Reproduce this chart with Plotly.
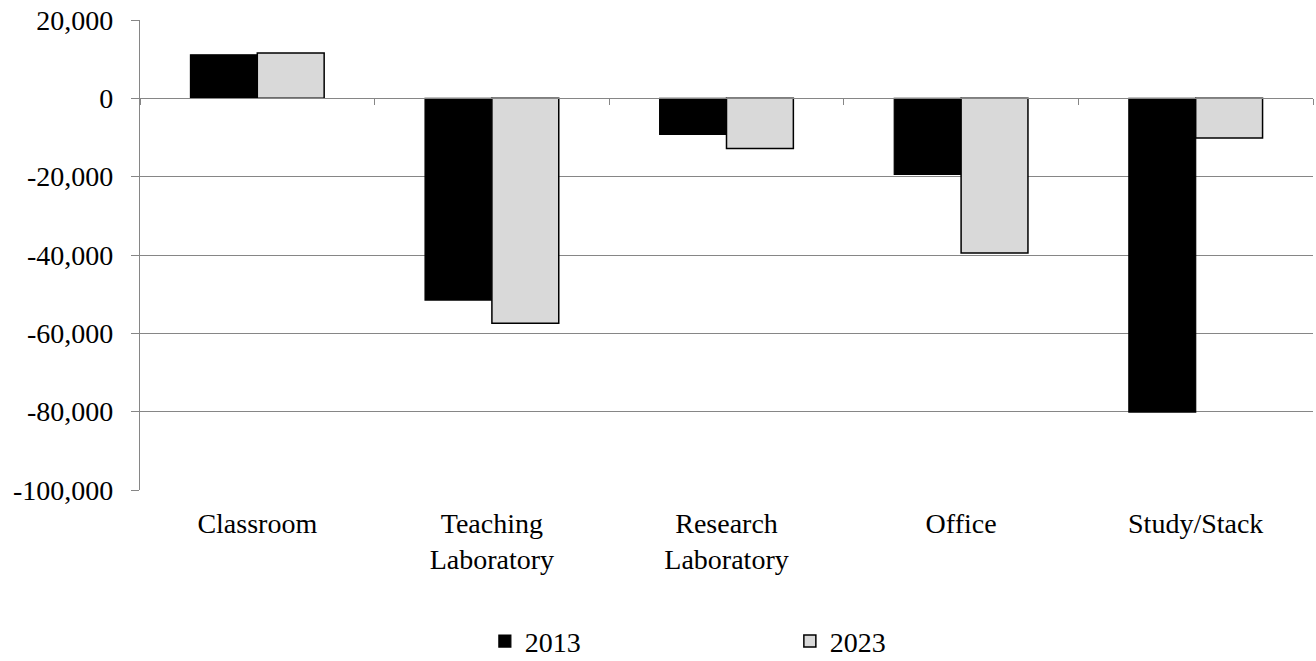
import plotly.graph_objects as go

categories = ["Classroom", "Teaching<br>Laboratory", "Research<br>Laboratory", "Office", "Study/Stack"]
series_2013 = [11100, -51500, -9200, -19400, -80100]
series_2023 = [11600, -57400, -12800, -39500, -10100]
y_tickvals = [20000, 0, -20000, -40000, -60000, -80000, -100000]
y_ticktext = ["20,000", "0", "-20,000", "-40,000", "-60,000", "-80,000", "-100,000"]
y_range = [-100000, 20000]

FONT = "Liberation Serif, Times New Roman, serif"
FS = 28

fig = go.Figure()
fig.add_trace(go.Bar(x=categories, y=series_2013, name="2013",
                     marker=dict(color="#000000", line=dict(color="#000000", width=1.2))))
fig.add_trace(go.Bar(x=categories, y=series_2023, name="2023",
                     marker=dict(color="#d9d9d9", line=dict(color="#000000", width=1.5))))
# invisible trace to host the category-axis line at zero
fig.add_trace(go.Scatter(x=categories, y=[0]*len(categories), xaxis="x2", mode="none",
                         showlegend=False, hoverinfo="skip"))

zero_pos = (0 - y_range[0]) / (y_range[1] - y_range[0])

fig.update_layout(
    width=1316, height=661,
    margin=dict(l=140, r=3, t=20, b=171, autoexpand=False),
    paper_bgcolor="white", plot_bgcolor="white",
    font=dict(family=FONT, size=FS, color="#000000"),
    barmode="group", bargap=0.43, bargroupgap=0,
    showlegend=True,
    legend=dict(orientation="h", x=0.294, xanchor="left", y=-0.322, yanchor="middle",
                font=dict(family=FONT, size=FS, color="#000000"), entrywidth=260,
                traceorder="normal", itemwidth=30, tracegroupgap=0),
    xaxis=dict(showline=False, ticks="", showgrid=False, ticklabelstandoff=14,
               tickfont=dict(family=FONT, size=FS, color="#000000"),
               range=[-0.5, 4.5]),
    xaxis2=dict(overlaying="x", matches="x", anchor="free", position=zero_pos,
                showline=True, linecolor="#868686", linewidth=1.2,
                ticks="outside", ticklen=6, tickcolor="#868686", tickwidth=1.2,
                tickmode="array", tickvals=[-0.5, 0.5, 1.5, 2.5, 3.5, 4.5],
                showticklabels=False, showgrid=False, zeroline=False, side="bottom"),
    yaxis=dict(range=y_range, tickmode="array", tickvals=y_tickvals, ticktext=y_ticktext,
               showgrid=True, gridcolor="#868686", gridwidth=1.2, showline=True,
               linecolor="#868686", linewidth=1.2, ticks="outside", ticklen=8,
               tickcolor="#868686", zeroline=False, ticklabelstandoff=12,
               tickfont=dict(family=FONT, size=FS, color="#000000")),
)

fig.write_html("out.html")
